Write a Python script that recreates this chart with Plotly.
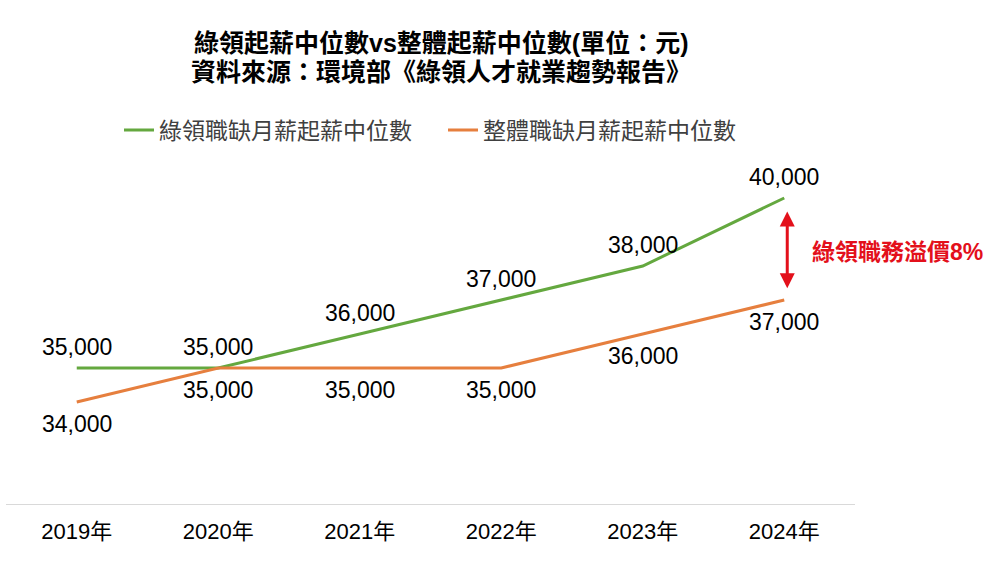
import plotly.graph_objects as go

years = ["2019年", "2020年", "2021年", "2022年", "2023年", "2024年"]
green_vals = [35000, 35000, 36000, 37000, 38000, 40000]
orange_vals = [34000, 35000, 35000, 35000, 36000, 37000]
green_name = "綠領職缺月薪起薪中位數"
orange_name = "整體職缺月薪起薪中位數"
title_line1 = "綠領起薪中位數vs整體起薪中位數(單位：元)"
title_line2 = "資料來源：環境部《綠領人才就業趨勢報告》"
premium_text = "綠領職務溢價8%"

GREEN = "#64A83F"
ORANGE = "#E67F3E"
RED = "#E3101B"
FONT = "Liberation Sans, Arial, Noto Sans CJK TC, sans-serif"

fig = go.Figure()
fig.add_trace(go.Scatter(x=years, y=green_vals, mode="lines", name=green_name,
                         line=dict(color=GREEN, width=3)))
fig.add_trace(go.Scatter(x=years, y=orange_vals, mode="lines", name=orange_name,
                         line=dict(color=ORANGE, width=3)))

annotations = []
for x, v in zip(years, green_vals):
    annotations.append(dict(x=x, y=v, xref="x", yref="y", text=f"{v:,}", showarrow=False,
                            yshift=21, font=dict(size=23, color="#000000", family=FONT)))
for x, v in zip(years, orange_vals):
    annotations.append(dict(x=x, y=v, xref="x", yref="y", text=f"{v:,}", showarrow=False,
                            yshift=-22, font=dict(size=23, color="#000000", family=FONT)))

# double-headed arrow between the two 2024 values
annotations.append(dict(x=5, y=green_vals[-1] - 400, xref="x", yref="y",
                        ax=5, ay=orange_vals[-1] + 300, axref="x", ayref="y",
                        xshift=3, showarrow=True, arrowhead=2, startarrowhead=2,
                        arrowside="end+start", arrowsize=1, startarrowsize=1,
                        arrowwidth=3, arrowcolor=RED, text=""))
annotations.append(dict(x=(810 - 6) / 849, y=0.741, xref="paper", yref="paper", xanchor="left",
                        yanchor="middle", text=f"<b>{premium_text}</b>", showarrow=False,
                        font=dict(size=23, color=RED, family=FONT)))
annotations.append(dict(x=(441 - 6) / 849, y=(504 - 43) / 340, xref="paper", yref="paper",
                        yanchor="middle",
                        text=f"<b>{title_line1}</b>", showarrow=False,
                        font=dict(size=25, color="#000000", family=FONT)))
annotations.append(dict(x=(441 - 6) / 849, y=(504 - 72) / 340, xref="paper", yref="paper",
                        yanchor="middle",
                        text=f"<b>{title_line2}</b>", showarrow=False,
                        font=dict(size=25, color="#000000", family=FONT)))

fig.update_layout(
    width=1005, height=569,
    margin=dict(l=6, r=150, t=164, b=65),
    paper_bgcolor="white", plot_bgcolor="white",
    font=dict(family=FONT, size=22, color="#000000"),
    showlegend=True,
    legend=dict(orientation="h", x=(119 - 6) / 849, y=(504 - 130) / 340,
                xanchor="left", yanchor="middle",
                font=dict(size=23, color="#404040", family=FONT),
                entrywidth=279, entrywidthmode="pixels", bgcolor="rgba(0,0,0,0)"),
    annotations=annotations,
)
fig.update_xaxes(type="category", range=[-0.5, 5.5], showline=True, linecolor="#D9D9D9",
                 linewidth=1, showgrid=False, ticks="", ticklabelstandoff=8,
                 tickfont=dict(size=22, color="#000000"), zeroline=False)
fig.update_yaxes(range=[31000, 41000], showgrid=False, showticklabels=False,
                 zeroline=False, showline=False)

fig.write_html("out.html")
